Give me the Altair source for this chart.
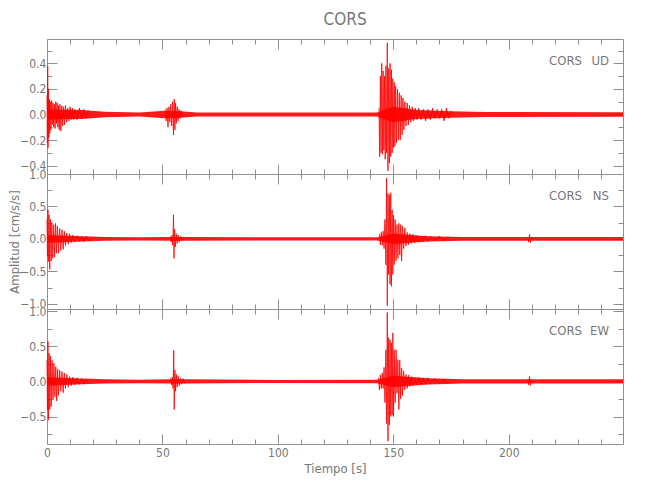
import altair as alt
import pandas as pd

TITLE = "CORS"
STATION = "CORS"
COMPONENTS = ["UD", "NS", "EW"]
X_TITLE = "Tiempo [s]"
Y_TITLE = "Amplitud [cm/s/s]"

X_DOMAIN = [0, 249.5]
X_MAJOR = [0, 50, 100, 150, 200]
X_MINOR = [10, 20, 30, 40, 60, 70, 80, 90, 110, 120, 130, 140,
           160, 170, 180, 190, 210, 220, 230, 240]

Y_DOMAINS = [[-0.465, 0.59], [-1.08, 1.0], [-0.89, 1.03]]
Y_MAJOR = [[-0.4, -0.2, 0.0, 0.2, 0.4],
           [-1.0, -0.5, 0.0, 0.5, 1.0],
           [-0.5, 0.0, 0.5, 1.0]]
Y_MINOR = [[-0.3, -0.1, 0.1, 0.3, 0.5],
           [-0.75, -0.25, 0.25, 0.75],
           [-0.75, -0.25, 0.25, 0.75]]

# ---------------- UD ----------------
UD_NOISE_T = [0, 15, 25, 40, 51, 58, 65, 100, 143, 150, 160, 175, 190, 249.5]
UD_NOISE_HW = [0.04, 0.035, 0.022, 0.016, 0.03, 0.025, 0.016, 0.015, 0.016, 0.06,
               0.035, 0.025, 0.02, 0.018]
UD_PEAK_T = [0.0, 0.15, 0.3, 0.45, 0.6, 0.8, 1.0, 1.2, 1.4, 1.7,
             2.0, 2.3, 2.6, 2.9, 3.2, 3.5, 3.8, 4.1, 4.4, 4.7,
             5.0, 5.3, 5.6, 6.0, 6.4, 6.8, 7.2, 7.6, 8.0, 8.5,
             9.0, 9.5, 10, 10.5, 11, 11.5, 12, 13, 14, 15,
             16, 17, 18,
             51.2, 51.6, 52.0, 52.4, 52.8, 53.2, 53.6, 54.0, 54.4, 54.8,
             55.1, 55.4, 55.7, 56.0, 56.4, 56.8, 57.2, 57.6, 58.0, 58.5,
             143.8, 144.1, 144.4, 144.7, 145.0, 145.3, 145.6, 145.9, 146.2, 146.5,
             146.8, 147.1, 147.4, 147.7, 148.0, 148.3, 148.6, 148.9, 149.2, 149.5,
             149.8, 150.1, 150.4, 150.7, 151.0, 151.4, 151.8, 152.2, 152.6, 153.0,
             153.4, 153.8, 154.2, 154.6, 155.0, 155.5, 156.0, 156.5, 157.0, 157.6,
             158.2, 158.8, 159.5, 160.2, 161, 162, 163, 164, 165, 166,
             167, 168, 169, 170, 171, 172, 173, 174, 175]
UD_PEAK_A = [0.15, -0.22, 0.38, -0.26, 0.20, -0.18, 0.12, -0.15, 0.10, -0.12,
             0.11, -0.08, 0.09, -0.10, 0.08, -0.11, 0.10, -0.07, 0.09, -0.10,
             0.07, -0.12, 0.08, -0.13, 0.07, -0.09, 0.06, -0.08, 0.07, -0.06,
             0.05, -0.05, 0.06, -0.04, 0.05, -0.04, 0.04, -0.04, 0.05, -0.03,
             0.04, -0.03, 0.03,
             0.04, -0.05, 0.05, -0.10, 0.06, -0.06, 0.08, -0.09, 0.10, -0.16,
             0.12, -0.12, 0.09, -0.07, 0.06, -0.05, 0.04, -0.03, 0.03, -0.02,
             0.05, -0.33, 0.30, -0.30, 0.40, -0.31, 0.34, -0.28, 0.30, -0.35,
             0.38, -0.30, 0.56, -0.44, 0.36, -0.38, 0.40, -0.33, 0.35, -0.30,
             0.28, -0.26, 0.25, -0.25, 0.22, -0.22, 0.20, -0.20, 0.17, -0.20,
             0.15, -0.16, 0.13, -0.12, 0.10, -0.09, 0.09, -0.08, 0.07, -0.06,
             0.06, -0.05, 0.05, -0.04, 0.05, -0.04, 0.04, -0.05, 0.04, -0.04,
             0.05, -0.03, 0.04, -0.03, 0.04, -0.05, 0.05, -0.03, 0.03]

# ---------------- NS ----------------
NS_NOISE_T = [0, 15, 25, 40, 53, 60, 100, 143, 150, 165, 180, 249.5]
NS_NOISE_HW = [0.06, 0.04, 0.03, 0.025, 0.03, 0.03, 0.025, 0.025, 0.08, 0.04, 0.03, 0.03]
NS_PEAK_T = [0.0, 0.2, 0.4, 0.6, 0.9, 1.2, 1.5, 1.8, 2.1, 2.5,
             2.9, 3.3, 3.7, 4.1, 4.5, 5.0, 5.5, 6.0, 6.5, 7.0,
             7.5, 8.0, 8.6, 9.2, 9.8, 10.5, 11.2, 12, 13, 14,
             15, 16, 17, 18, 19,
             53.4, 53.8, 54.2, 54.5, 54.8, 55.0, 55.3, 55.6, 56.0, 56.4,
             56.8, 57.3, 57.8, 58.4, 59.0,
             144.0, 144.4, 144.8, 145.2, 145.6, 146.0, 146.4, 146.8, 147.1, 147.4,
             147.7, 148.0, 148.3, 148.6, 148.9, 149.2, 149.5, 149.8, 150.1, 150.4,
             150.8, 151.2, 151.6, 152.0, 152.4, 152.8, 153.2, 153.6, 154.0, 154.5,
             155.0, 155.5, 156.0, 156.6, 157.2, 157.8, 158.5, 159.2, 160, 161,
             162, 163, 164, 165, 166, 168, 170, 172, 174,
             208.2, 208.6, 209.0, 209.4, 209.8]
NS_PEAK_A = [0.30, -0.27, 0.45, -0.35, 0.37, -0.47, 0.30, -0.34, 0.25, -0.30,
             0.22, -0.28, 0.24, -0.22, 0.20, -0.22, 0.16, -0.18, 0.14, -0.16,
             0.12, -0.10, 0.09, -0.08, 0.08, -0.06, 0.06, -0.05, 0.05, -0.04,
             0.04, -0.04, 0.04, -0.03, 0.03,
             0.04, -0.05, 0.06, -0.10, 0.37, -0.30, 0.15, -0.12, 0.08, -0.07,
             0.06, -0.05, 0.04, -0.03, 0.03,
             0.08, -0.09, 0.10, -0.10, 0.12, -0.15, 0.30, -0.40, 0.94, -1.03,
             0.70, -0.55, 0.68, -0.70, 0.71, -0.73, 0.45, -0.55, 0.37, -0.40,
             0.30, -0.34, 0.22, -0.30, 0.24, -0.25, 0.22, -0.34, 0.20, -0.15,
             0.17, -0.11, 0.10, -0.09, 0.08, -0.07, 0.07, -0.06, 0.05, -0.05,
             0.04, -0.04, 0.05, -0.04, 0.04, -0.03, 0.04, -0.03, 0.03,
             0.03, -0.05, 0.07, -0.06, 0.03]

# ---------------- EW ----------------
EW_NOISE_T = [0, 15, 25, 40, 53, 60, 100, 143, 150, 165, 180, 249.5]
EW_NOISE_HW = [0.06, 0.04, 0.03, 0.025, 0.03, 0.03, 0.022, 0.025, 0.08, 0.045, 0.03, 0.03]
EW_PEAK_T = [0.0, 0.2, 0.4, 0.6, 0.9, 1.2, 1.5, 1.8, 2.2, 2.6,
             3.0, 3.4, 3.8, 4.2, 4.6, 5.0, 5.5, 6.0, 6.5, 7.0,
             7.5, 8.0, 8.6, 9.2, 9.8, 10.5, 11.2, 12, 13, 14,
             15, 16, 17, 18,
             53.6, 54.0, 54.3, 54.6, 54.9, 55.1, 55.4, 55.7, 56.0, 56.4,
             56.8, 57.3, 57.8, 58.4, 59.0, 59.6,
             143.6, 144.0, 144.4, 144.8, 145.2, 145.6, 146.0, 146.4, 146.8, 147.1,
             147.4, 147.7, 148.0, 148.3, 148.6, 148.9, 149.2, 149.5, 149.8, 150.1,
             150.4, 150.8, 151.2, 151.6, 152.0, 152.4, 152.8, 153.2, 153.6, 154.0,
             154.5, 155.0, 155.5, 156.0, 156.6, 157.2, 157.8, 158.5, 159.2, 160,
             161, 162, 163, 164, 165, 166, 168, 170, 172, 174,
             208.2, 208.6, 209.0, 209.4, 209.8]
EW_PEAK_A = [0.30, -0.40, 0.57, -0.55, 0.40, -0.40, 0.36, -0.36, 0.30, -0.26,
             0.26, -0.22, 0.21, -0.28, 0.18, -0.20, 0.16, -0.14, 0.14, -0.16,
             0.12, -0.10, 0.10, -0.08, 0.07, -0.06, 0.06, -0.05, 0.05, -0.04,
             0.04, -0.04, 0.03, -0.03,
             0.05, -0.05, 0.06, -0.10, 0.44, -0.40, 0.16, -0.14, 0.10, -0.08,
             0.08, -0.06, 0.05, -0.04, 0.04, -0.03,
             0.05, -0.12, 0.09, -0.10, 0.12, -0.10, 0.20, -0.30, 0.45, -0.60,
             0.98, -0.85, 0.62, -0.62, 0.59, -0.50, 0.55, -0.48, 0.69, -0.50,
             0.45, -0.30, 0.45, -0.17, 0.31, -0.40, 0.30, -0.25, 0.19, -0.20,
             0.15, -0.12, 0.10, -0.10, 0.09, -0.07, 0.07, -0.06, 0.06, -0.05,
             0.06, -0.04, 0.05, -0.04, 0.05, -0.03, 0.04, -0.03, 0.03, -0.03,
             0.03, -0.05, 0.07, -0.06, 0.03]

PEAKS = [(UD_PEAK_T, UD_PEAK_A), (NS_PEAK_T, NS_PEAK_A), (EW_PEAK_T, EW_PEAK_A)]
NOISE = [(UD_NOISE_T, UD_NOISE_HW), (NS_NOISE_T, NS_NOISE_HW), (EW_NOISE_T, EW_NOISE_HW)]

W, H = 576, 135
GRAY = "#8f8f8f"
TEXT = "#777777"
RED = "#ff0000"
FONT = "Liberation Sans Narrow, DejaVu Sans Condensed, Liberation Sans, sans-serif"


def tick_x(values, size, orient):
    return alt.Axis(orient=orient, offset=-H, values=values, tickSize=size, ticks=True,
                    labels=False, domain=False, grid=False, title=None,
                    tickColor=GRAY, tickWidth=1)


def tick_y(values, size, orient):
    return alt.Axis(orient=orient, offset=-W, values=values, tickSize=size, ticks=True,
                    labels=False, domain=False, grid=False, title=None,
                    tickColor=GRAY, tickWidth=1)


def segments(times):
    # group consecutive samples of one wave train (a gap of more than 3 s starts a new one)
    seg, out, prev = 0, [], None
    for t in times:
        if prev is not None and t - prev > 3:
            seg += 1
        out.append(seg)
        prev = t
    return out


def make_panel(i, last):
    pt, pa = PEAKS[i]
    nt, nh = NOISE[i]
    n = min(len(pt), len(pa))
    peaks = pd.DataFrame({"t": pt[:n], "a": pa[:n], "seg": segments(pt[:n])})
    band = pd.DataFrame({"t": nt, "hi": nh, "lo": [-h for h in nh]})
    xs = alt.Scale(domain=X_DOMAIN, nice=False, zero=False)
    ys = alt.Scale(domain=Y_DOMAINS[i], nice=False, zero=False)

    yl_kwargs = dict(orient="left", values=Y_MAJOR[i], format=".1f", ticks=False,
                     domain=False, grid=False, labelPadding=1, labelColor=TEXT,
                     labelFontSize=12, labelFont=FONT, labelOverlap=False,
                     labelBound=False, labelFlush=False)
    if i == 1:
        yl_kwargs.update(title=Y_TITLE, titleColor=TEXT, titleFont=FONT,
                         titleFontSize=13, titleFontWeight="normal", titlePadding=-2)
    else:
        yl_kwargs.update(title=None)
    label_axis = alt.Axis(**yl_kwargs)

    if last:
        x_label_axis = alt.Axis(orient="bottom", values=X_MAJOR, format="d", ticks=False,
                                domain=False, grid=False, labelPadding=3, labelColor=TEXT,
                                labelFontSize=12, labelFont=FONT, labelFlush=False,
                                labelOverlap=False, title=X_TITLE, titleColor=TEXT,
                                titleFont=FONT, titleFontSize=13, titleFontWeight="normal",
                                titlePadding=4)
    else:
        x_label_axis = None

    l1 = alt.Chart(band).mark_area(color=RED, opacity=0.9).encode(
        x=alt.X("t:Q", scale=xs, axis=tick_x(X_MAJOR, 10, "top")),
        y=alt.Y("hi:Q", scale=ys, axis=label_axis),
        y2="lo:Q")
    l1b = alt.Chart(peaks).mark_area(color=RED, opacity=0.45).encode(
        x=alt.X("t:Q", scale=xs, axis=None),
        y=alt.Y("a:Q", scale=ys, axis=None),
        y2=alt.datum(0),
        detail="seg:N")
    l2 = alt.Chart(peaks).mark_line(color=RED, strokeWidth=0.9, opacity=0.9).encode(
        x=alt.X("t:Q", scale=xs, axis=tick_x(X_MAJOR, 10, "bottom")),
        y=alt.Y("a:Q", scale=ys, axis=tick_y(Y_MAJOR[i], 10, "right")),
        detail="seg:N")
    l3 = alt.Chart(peaks).mark_point(opacity=0).encode(
        x=alt.X("t:Q", scale=xs, axis=tick_x(X_MINOR, 5, "bottom")),
        y=alt.Y("a:Q", scale=ys, axis=tick_y(Y_MINOR[i], 5, "right")))
    l4 = alt.Chart(peaks).mark_point(opacity=0).encode(
        x=alt.X("t:Q", scale=xs, axis=tick_x(X_MINOR, 5, "top")),
        y=alt.Y("a:Q", scale=ys, axis=tick_y(Y_MAJOR[i], 10, "left")))
    l5 = alt.Chart(peaks).mark_point(opacity=0).encode(
        x=alt.X("t:Q", scale=xs, axis=x_label_axis),
        y=alt.Y("a:Q", scale=ys, axis=tick_y(Y_MINOR[i], 5, "left")))

    lab = pd.DataFrame({"s": [STATION], "c": [COMPONENTS[i]]})
    t1 = alt.Chart(lab).mark_text(align="right", baseline="middle", font=FONT,
                                  fontSize=13, color=TEXT).encode(
        x=alt.value(W - 41), y=alt.value(22), text="s:N")
    t2 = alt.Chart(lab).mark_text(align="right", baseline="middle", font=FONT,
                                  fontSize=13, color=TEXT).encode(
        x=alt.value(W - 14), y=alt.value(22), text="c:N")

    return alt.layer(l1, l1b, l2, l3, l4, l5, t1, t2).resolve_axis(
        x="independent", y="independent").properties(width=W, height=H)


panels = [make_panel(i, i == 2) for i in range(3)]

chart = alt.vconcat(*panels, spacing=0, bounds="flush").properties(
    title=alt.TitleParams(TITLE, font=FONT, fontSize=17, fontWeight="normal",
                          color=TEXT, offset=9, anchor="middle", dx=29),
    padding={"left": 0, "top": 3, "right": 5, "bottom": 5},
).configure_view(stroke=GRAY, strokeWidth=1)

chart.save("out.html", embed_options={"renderer": "svg", "actions": False})
